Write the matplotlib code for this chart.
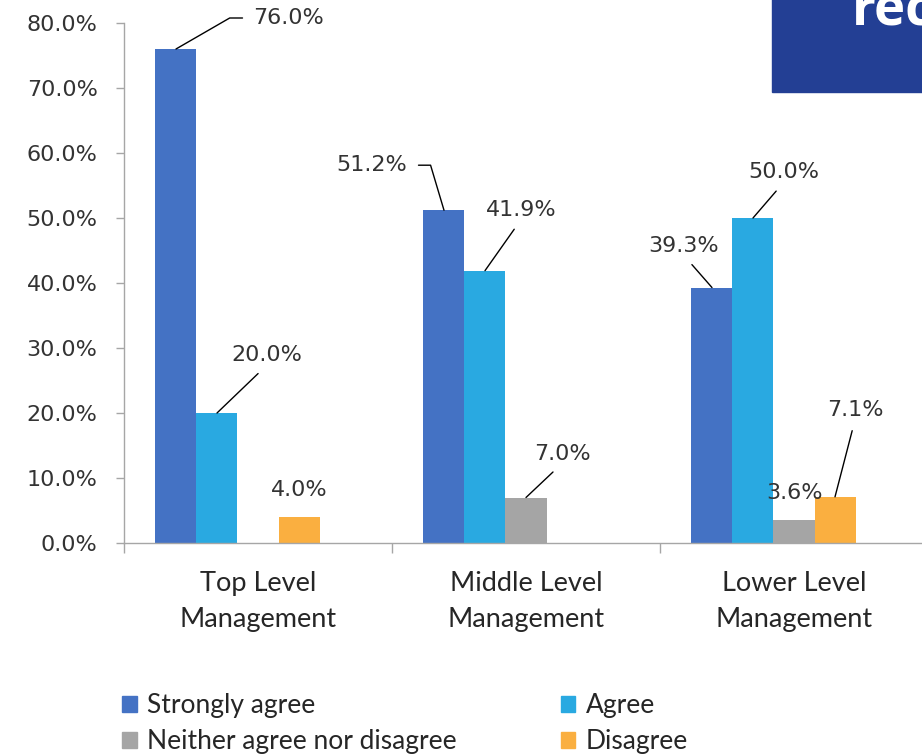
import numpy as np
import matplotlib.pyplot as plt
from matplotlib.patches import Patch, Rectangle
from matplotlib.ticker import FuncFormatter

# datos del grafico
categorias = ['Top Level\nManagement', 'Middle Level\nManagement', 'Lower Level\nManagement']
series = ['Strongly agree', 'Agree', 'Neither agree nor disagree', 'Disagree']
strongly_agree = [76.0, 51.2, 39.3]
agree = [20.0, 41.9, 50.0]
neither = [0.0, 7.0, 3.6]
disagree = [4.0, 0.0, 7.1]
colores = ['#4472C4', '#29A9E1', '#A5A5A5', '#FAAF40']

valores = [strongly_agree, agree, neither, disagree]

# posicion de las etiquetas (pixeles desde la cima de la barra): dx, dy, relpos, angulo del codo
etiquetas = {
    (0, 0): (113, 31, (0, 0.5), 30),
    (1, 0): (50, 58, (0.5, 0), None),
    (3, 0): (0, 27, None, None),
    (0, 1): (-72, 45, (1, 0.5), 106.6),
    (1, 1): (36, 61, (0.5, 0), None),
    (2, 1): (36, 44, (0.5, 0), None),
    (0, 2): (-28, 42, (0.5, 0), None),
    (1, 2): (31, 46, (0.5, 0), None),
    (2, 2): (0, 27, None, None),
    (3, 2): (20, 87, (0.5, 0), None),
}

gris = '#A6A6A6'
texto = '#262626'
texto_num = '#333333'
fuente_num = {'family': 'DejaVu Sans', 'size': 16}

fig = plt.figure(figsize=(9.22, 7.55), dpi=100)
ax = fig.add_axes([124 / 922, 212 / 755, 804 / 922, 520 / 755])

x = np.arange(len(categorias))
w = 0.153
for k in range(len(series)):
    vals = np.array(valores[k])
    ax.bar(x + (k - 2) * w, vals, width=w, color=colores[k], linewidth=0, label=series[k])

for (k, i), (dx, dy, rel, ang) in etiquetas.items():
    v = valores[k][i]
    xb = x[i] + (k - 2) * w
    if rel is None:
        ax.annotate('%.1f%%' % v, xy=(xb, v), xytext=(dx, dy), textcoords='offset pixels',
                    ha='center', va='center', color=texto_num, **fuente_num)
    else:
        if ang is None:
            cs = 'arc3'
        else:
            cs = 'angle,angleA=0,angleB=%s,rad=0' % ang
        ax.annotate('%.1f%%' % v, xy=(xb, v), xytext=(dx, dy), textcoords='offset pixels',
                    ha='center', va='center', color=texto_num, **fuente_num,
                    arrowprops=dict(arrowstyle='-', color='black', lw=1,
                                    relpos=rel, shrinkA=6, shrinkB=0,
                                    connectionstyle=cs))

ax.set_xlim(-0.5, 2.5)
ax.set_ylim(0, 80)
ax.set_yticks(np.arange(0, 81, 10))
ax.yaxis.set_major_formatter(FuncFormatter(lambda v, p: '%.1f%%' % v))
ax.tick_params(axis='y', colors=gris, length=6, width=1, labelcolor=texto_num, pad=13)
for t in ax.get_yticklabels():
    t.set_fontfamily(fuente_num['family'])
    t.set_fontsize(fuente_num['size'])

ax.set_xticks([-0.5, 0.5, 1.5, 2.5])
ax.set_xticklabels([])
ax.set_xticks(x, minor=True)
ax.set_xticklabels(categorias, minor=True, fontsize=19.5, family='Lato', color=texto, linespacing=1.55)
ax.tick_params(axis='x', which='major', colors=gris, length=7, width=1)
ax.tick_params(axis='x', which='minor', length=0, pad=20)

for s in ['top', 'right']:
    ax.spines[s].set_visible(False)
for s in ['left', 'bottom']:
    ax.spines[s].set_color(gris)
    ax.spines[s].set_linewidth(1)

# orden para que la leyenda se lea por filas
orden = [0, 2, 1, 3]
handles = [Patch(color=colores[j]) for j in orden]
nombres = [series[j] for j in orden]
leg = fig.legend(handles, nombres, loc='upper left', bbox_to_anchor=(122 / 922, 62 / 755),
                 ncol=2, frameon=False, prop={'family': 'Lato', 'size': 19},
                 handlelength=0.55, handleheight=0.55, handletextpad=0.4,
                 columnspacing=3.95, labelspacing=0.42, borderpad=0, borderaxespad=0)
for t in leg.get_texts():
    t.set_color(texto)

# recuadro azul recortado arriba a la derecha
fig.patches.append(Rectangle((772 / 922, 1 - 92 / 755), 1, 1, transform=fig.transFigure,
                             color='#233F94', zorder=5))
fig.text(852 / 922, 1 - 25 / 755, 'rec', color='white', fontsize=38, fontweight='bold',
         family='Open Sans', va='baseline', ha='left', zorder=6)

plt.savefig('out.png', dpi=100)
